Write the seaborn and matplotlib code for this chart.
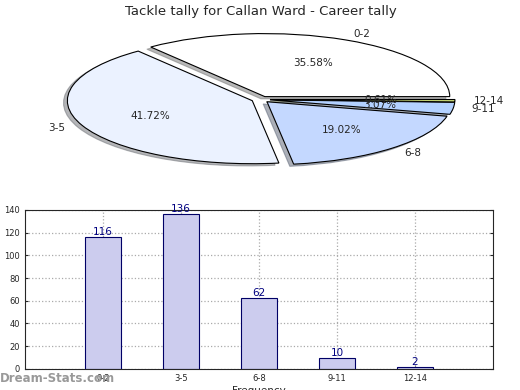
import matplotlib
matplotlib.use("Agg")
import matplotlib.pyplot as plt
import seaborn as sns
import pandas as pd

# data
categories = ["0-2", "3-5", "6-8", "9-11", "12-14"]
counts = [116, 136, 62, 10, 2]
pie_colors = ["#ffffff", "#ebf2ff", "#c4d8ff", "#b3d1ff", "#cfe07a"]
explode = [0.05, 0.05, 0.05, 0.05, 0.05]

df = pd.DataFrame({"interval": categories, "count": counts})

sns.set_style("ticks")
plt.rcParams["font.family"] = ["DejaVu Sans"]

fig = plt.figure(figsize=(5.2, 3.9), dpi=100)

# pie on top (squashed ellipse like the original)
ax1 = fig.add_axes([0.057, 0.543, 0.889, 0.404])
wedges, texts, autotexts = ax1.pie(
    counts, labels=categories, colors=pie_colors, explode=explode,
    autopct="%.2f%%", shadow={"ox": -0.015, "oy": -0.025, "shade": 0.55},
    startangle=0,
    wedgeprops={"edgecolor": "black", "linewidth": 0.8},
    textprops={"fontsize": 7.5})
ax1.set_aspect("auto")
ax1.set_xlim(-1.25, 1.25)
ax1.set_ylim(-1.25, 1.25)
ax1.set_title("Tackle tally for Callan Ward - Career tally", fontsize=9.5, pad=4)

# bar chart below
ax2 = fig.add_axes([0.048, 0.054, 0.9, 0.408])
sns.barplot(data=df, x="interval", y="count", ax=ax2, color="#ccccee",
            edgecolor="#000066", linewidth=0.8, width=0.46, saturation=1)
ax2.set_xlim(-1, 5)
ax2.set_ylim(0, 140)
ax2.set_yticks(range(0, 141, 20))
ax2.grid(True, linestyle=":", color="#aaaaaa", linewidth=0.9)
ax2.set_axisbelow(True)
for i, v in enumerate(counts):
    ax2.text(i, v, str(v), ha="center", va="bottom", fontsize=7.5, color="#000080")
ax2.tick_params(labelsize=6, length=2, right=True, direction="in")
ax2.set_xlabel("Frequency", fontsize=7.5, labelpad=2)
ax2.set_ylabel("Stat Intervals", fontsize=7.5, labelpad=2)
for s in ax2.spines.values():
    s.set_linewidth(0.8)

fig.text(0.0, 0.012, "Dream-Stats.com", fontsize=8.5, color="#999999",
         fontweight="bold", ha="left", va="bottom")

fig.savefig("out.png", dpi=100)
